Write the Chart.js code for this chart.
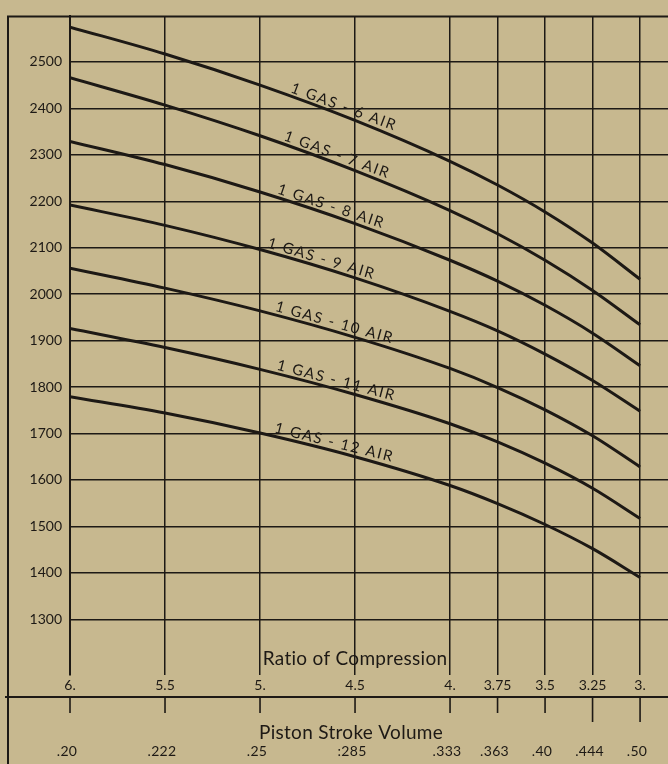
<!DOCTYPE html>
<html>
<head>
<meta charset="utf-8">
<script src="https://cdn.jsdelivr.net/npm/chart.js@4.4.1/dist/chart.umd.min.js"></script>
<style>
    html, body { margin: 0; padding: 0; background: #c7b88f; }
    #wrap { width: 668px; height: 764px; }
</style>
</head>
<body>
<div id="wrap"><canvas id="chart" width="668" height="764"></canvas></div>
<script>
// Ratio of compression along the bottom, with matching piston stroke volume
const ratios = [6, 5.5, 5, 4.5, 4, 3.75, 3.5, 3.25, 3];
const ratioLabels = ['6.', '5.5', '5.', '4.5', '4.', '3.75', '3.5', '3.25', '3.'];
const volumeLabels = ['.20', '.222', '.25', ':285', '.333', '.363', '.40', '.444', '.50'];
const yTicks = [1300, 1400, 1500, 1600, 1700, 1800, 1900, 2000, 2100, 2200, 2300, 2400, 2500];

// one curve per mixture, read at each ratio above
const air6  = [2575, 2517, 2450, 2374, 2286, 2235, 2177, 2110, 2032];
const air7  = [2466, 2407, 2341, 2266, 2180, 2130, 2073, 2008, 1934];
const air8  = [2329, 2279, 2220, 2152, 2073, 2028, 1976, 1916, 1846];
const air9  = [2192, 2148, 2096, 2035, 1963, 1921, 1871, 1814, 1748];
const air10 = [2056, 2013, 1964, 1907, 1840, 1799, 1751, 1695, 1628];
const air11 = [1926, 1885, 1838, 1784, 1721, 1682, 1636, 1582, 1517];
const air12 = [1779, 1744, 1701, 1650, 1588, 1549, 1504, 1452, 1390];

const curveNames = ['1 GAS - 6 AIR', '1 GAS - 7 AIR', '1 GAS - 8 AIR', '1 GAS - 9 AIR',
    '1 GAS - 10 AIR', '1 GAS - 11 AIR', '1 GAS - 12 AIR'];
const curves = [air6, air7, air8, air9, air10, air11, air12];

const INK = '#1d1915';
const PAPER = '#c7b88f';
const FONT = 'Lato, "DejaVu Sans", sans-serif';

// where along the 5.0 -> 4.5 segment each curve label sits
const labelT = [0.85, 0.78, 0.72, 0.62, 0.76, 0.78, 0.76];

const paperPlugin = {
    id: 'paper',
    beforeDraw(chart) {
        const ctx = chart.ctx;
        ctx.save();
        ctx.fillStyle = PAPER;
        ctx.fillRect(0, 0, chart.width, chart.height);
        ctx.restore();
    },
    afterDraw(chart) {
        const ctx = chart.ctx;
        const area = chart.chartArea;
        const xs = chart.scales.x;
        ctx.save();
        ctx.strokeStyle = INK;
        ctx.fillStyle = INK;

        // outer frame: left and top
        ctx.lineWidth = 2;
        ctx.beginPath();
        ctx.moveTo(8, chart.height);
        ctx.lineTo(8, area.top);
        ctx.lineTo(chart.width, area.top);
        ctx.stroke();

        // lower axis line with tick marks
        const axisY = 697;
        ctx.beginPath();
        ctx.moveTo(5, axisY);
        ctx.lineTo(chart.width, axisY);
        ctx.stroke();
        ctx.lineWidth = 1.6;
        ratios.forEach((r, i) => {
            const px = xs.getPixelForValue(r);
            const len = i >= 7 ? 25 : 16;
            ctx.beginPath();
            ctx.moveTo(px, axisY);
            ctx.lineTo(px, axisY + len);
            ctx.stroke();
        });

        // axis titles (small spacing keeps Lato from joining "ti")
        if ('letterSpacing' in ctx) ctx.letterSpacing = '0.3px';
        ctx.textAlign = 'center';
        ctx.textBaseline = 'middle';
        ctx.font = '19px ' + FONT;
        ctx.fillText('Ratio of Compression', xs.getPixelForValue(4.5), 659);
        ctx.fillText('Piston Stroke Volume', xs.getPixelForValue(4.5) - 4, 733);

        // volume labels
        ctx.font = '14px ' + FONT;
        ratios.forEach((r, i) => {
            ctx.fillText(volumeLabels[i], xs.getPixelForValue(r) - 3, 751);
        });

        // curve labels, laid along each line
        ctx.font = '15px ' + FONT;
        ctx.textBaseline = 'alphabetic';
        if ('letterSpacing' in ctx) ctx.letterSpacing = '1.6px';
        curveNames.forEach((name, i) => {
            const pts = chart.getDatasetMeta(i).data;
            const a = pts[2], b = pts[3];
            const t = labelT[i];
            const x = a.x + t * (b.x - a.x);
            const y = a.y + t * (b.y - a.y);
            const ang = Math.atan2(b.y - a.y, b.x - a.x);
            ctx.save();
            ctx.translate(x, y);
            ctx.rotate(ang);
            ctx.fillText(name, 0, -4);
            ctx.restore();
        });
        ctx.restore();
    }
};

new Chart(document.getElementById('chart'), {
    type: 'line',
    data: {
        datasets: curves.map((vals, i) => ({
            label: curveNames[i],
            data: ratios.map((r, j) => ({ x: r, y: vals[j] })),
            borderColor: INK,
            borderWidth: 3,
            pointRadius: 0,
            cubicInterpolationMode: 'monotone',
            fill: false
        }))
    },
    options: {
        responsive: false,
        animation: false,
        layout: { padding: { top: 9, left: 0, right: 0, bottom: 0 } },
        plugins: {
            legend: { display: false },
            tooltip: { enabled: false }
        },
        scales: {
            x: {
                type: 'linear',
                reverse: true,
                min: 2.853,
                max: 6,
                afterBuildTicks: s => { s.ticks = ratios.map(v => ({ value: v })); },
                afterFit: s => { s.height = 89; },
                ticks: {
                    autoSkip: false,
                    maxRotation: 0,
                    padding: 2,
                    color: INK,
                    font: { family: FONT, size: 14 },
                    callback: (v, i) => ratioLabels[i]
                },
                grid: { color: INK, lineWidth: 1.5, drawTicks: false },
                border: { display: false }
            },
            y: {
                min: 1180,
                max: 2598,
                afterBuildTicks: s => { s.ticks = yTicks.map(v => ({ value: v })); },
                afterFit: s => { s.width = 70; },
                ticks: {
                    padding: 8,
                    color: INK,
                    font: { family: FONT, size: 14 },
                    callback: v => String(v)
                },
                grid: { color: INK, lineWidth: 1.5, drawTicks: false },
                border: { display: true, color: INK, width: 2 }
            }
        }
    },
    plugins: [paperPlugin]
});
</script>
</body>
</html>
